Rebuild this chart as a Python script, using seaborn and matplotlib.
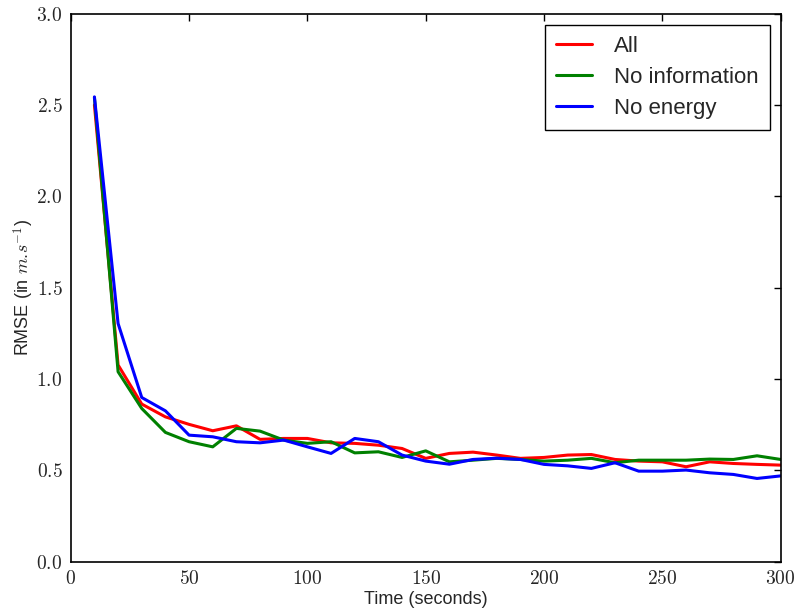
import numpy as np
import pandas as pd
import matplotlib
matplotlib.use("Agg")
import matplotlib.pyplot as plt
from matplotlib.ticker import FuncFormatter, MultipleLocator
import seaborn as sns

# === DATA ===
time_s = [10, 20, 30, 40, 50, 60, 70, 80, 90, 100,
          110, 120, 130, 140, 150, 160, 170, 180, 190, 200,
          210, 220, 230, 240, 250, 260, 270, 280, 290, 300]

rmse_all = [2.50, 1.077, 0.863, 0.793, 0.752, 0.717, 0.744, 0.670, 0.675, 0.675,
            0.651, 0.648, 0.638, 0.620, 0.566, 0.593, 0.600, 0.584, 0.566, 0.571,
            0.584, 0.587, 0.560, 0.551, 0.547, 0.520, 0.547, 0.538, 0.533, 0.529]

rmse_no_info = [2.54, 1.040, 0.839, 0.708, 0.657, 0.629, 0.730, 0.715, 0.666, 0.648,
                0.657, 0.596, 0.602, 0.571, 0.607, 0.547, 0.556, 0.566, 0.560, 0.551,
                0.556, 0.566, 0.542, 0.556, 0.556, 0.556, 0.562, 0.560, 0.580, 0.560]

rmse_no_energy = [2.544, 1.304, 0.899, 0.826, 0.693, 0.684, 0.657, 0.651, 0.666, 0.629,
                  0.593, 0.675, 0.657, 0.584, 0.551, 0.534, 0.560, 0.567, 0.560, 0.533,
                  0.525, 0.511, 0.542, 0.496, 0.496, 0.502, 0.487, 0.478, 0.456, 0.470]

series_names = ["All", "No information", "No energy"]
series_colors = ["#ff0000", "#008000", "#0000ff"]

df = pd.DataFrame({
    "time": time_s * 3,
    "rmse": rmse_all + rmse_no_info + rmse_no_energy,
    "method": [n for n in series_names for _ in time_s],
})

# === STYLE ===
sns.set_style("white")
plt.rcParams["font.family"] = ["Liberation Sans", "DejaVu Sans"]
plt.rcParams["mathtext.fontset"] = "cm"

fig = plt.figure(figsize=(7.95, 6.16), dpi=100)
ax = fig.add_axes([0.089, 0.088, 0.893, 0.890])

sns.lineplot(data=df, x="time", y="rmse", hue="method",
             hue_order=series_names, palette=series_colors,
             linewidth=2.2, ax=ax)

ax.set_xlim(0, 300)
ax.set_ylim(0, 3.0)
ax.xaxis.set_major_locator(MultipleLocator(50))
ax.yaxis.set_major_locator(MultipleLocator(0.5))
ax.xaxis.set_major_formatter(FuncFormatter(lambda v, p: f"${v:.0f}$"))
ax.yaxis.set_major_formatter(FuncFormatter(lambda v, p: f"${v:.1f}$"))
ax.tick_params(direction="in", length=5, width=1, top=True, right=True,
               labelsize=14, pad=6, color="black")
for sp in ax.spines.values():
    sp.set_color("black")
    sp.set_linewidth(1.2)

ax.set_xlabel("Time (seconds)", fontsize=13, labelpad=2)
ax.set_ylabel(r"RMSE (in $m.\!s^{-1}$)", fontsize=13, labelpad=0)

leg = ax.legend(loc="upper right", fontsize=16, frameon=True, fancybox=False,
                edgecolor="black", framealpha=1, borderaxespad=0.5,
                handlelength=1.6, handletextpad=1.0, borderpad=0.5,
                labelspacing=0.45)
leg.get_frame().set_linewidth(1.0)
leg.set_title(None)

fig.savefig("out.png", dpi=100, facecolor="white")
